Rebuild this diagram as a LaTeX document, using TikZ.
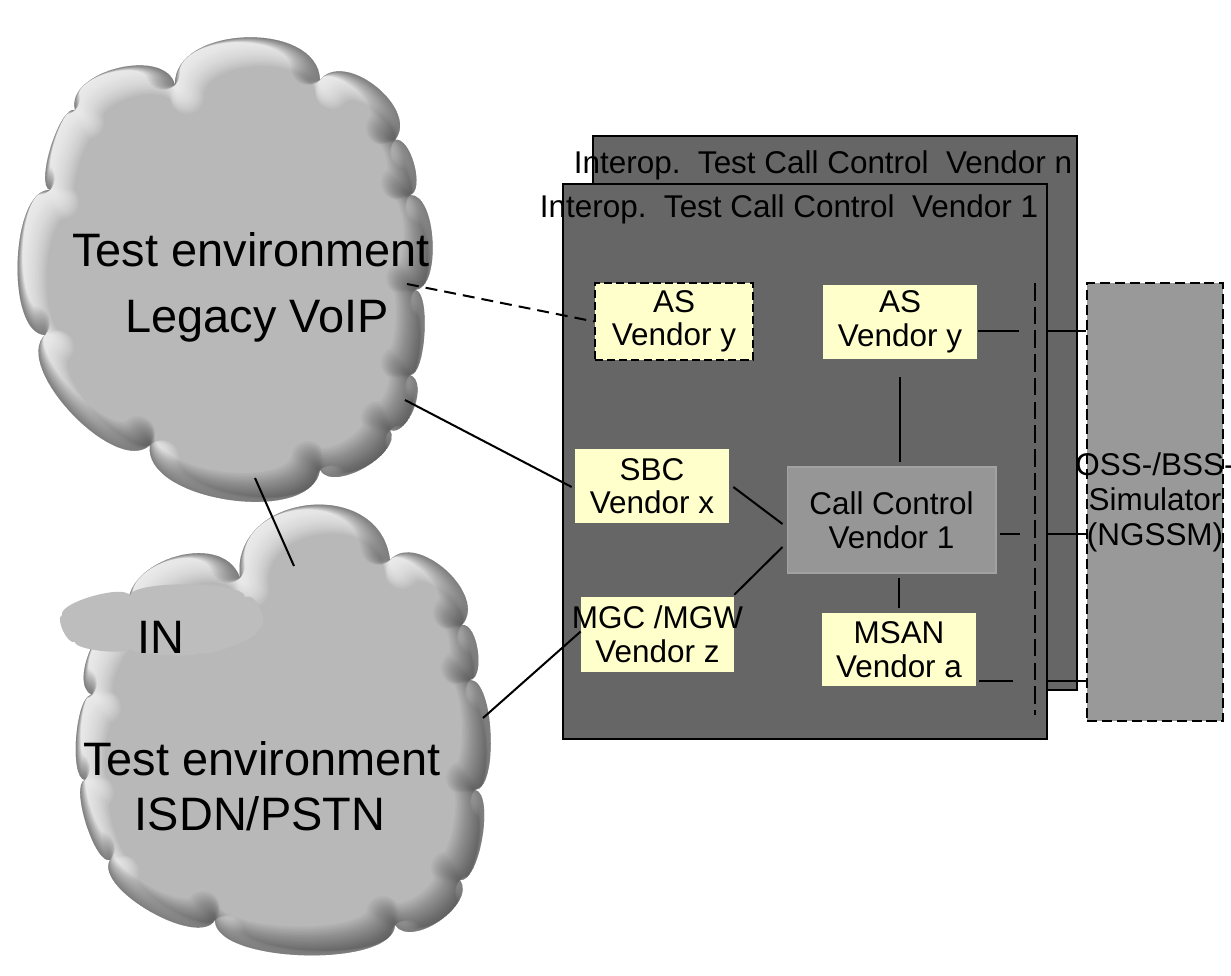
\documentclass[tikz,border=0pt]{standalone}
\usepackage{fontspec}
\setmainfont{Liberation Sans}
\usetikzlibrary{calc}

\definecolor{boxgray}{HTML}{666666}
\definecolor{note}{HTML}{FFFFCC}
\definecolor{ccgray}{HTML}{969696}
\definecolor{ccrim}{HTML}{A2A2A2}
\definecolor{ossgray}{HTML}{999999}
\definecolor{cloudfill}{HTML}{B8B8B8}
\definecolor{infill}{HTML}{BDBDBD}

% cloud outlines, traced clockwise, each bump an outward bend
\newcommand\voipoutline{(175,85) to[puff=1.06] (320,80) to[puff=1.06] (395,140)
  to[puff=0.72] (410,195) to[puff=0.72] (415,290) to[puff=0.48] (410,375)
  to[puff=0.88] (390,430) to[puff=0.85] (320,470) to[puff=0.85] (150,445)
  to[puff=0.78] (45,335) to[puff=0.70] (50,190) to[puff=0.49] (75,110)
  to[puff=1.0] (175,85) -- cycle}
\newcommand\pstnoutline{(240,578) to[puff=1.45] (390,560) to[puff=1.05] (462,625)
  to[puff=0.73] (470,680) to[puff=0.56] (475,790) to[puff=0.56] (460,880)
  to[puff=0.95] (395,925) to[puff=0.62] (215,920) to[puff=0.70] (110,860)
  to[puff=0.49] (85,780) to[puff=0.49] (92,695) to[puff=0.81] (130,615)
  to[puff=1.2] (240,578) -- cycle}
\newcommand\inoutline{(62,615) to[puff=0.48] (130,596) to[puff=0.36] (245,597)
  to[puff=0.97] (258,630) to[puff=0.33] (200,652) to[puff=0.25] (130,648)
  to[puff=0.37] (75,642) to[puff=0.68] (62,615) -- cycle}

% a cloud with a soft bevel: light upper-left rim, dark lower-right rim
\newcommand\puffycloud[1]{%
  \fill[cloudfill] #1;
  \begin{scope}[line join=round]
    \clip #1;
    \foreach \s in {0.6,1.2,...,12}{\draw[white, opacity=0.075, line width=\s*0.0566cm, shift={(\s,\s)}] #1;}
    \foreach \s in {0.6,1.2,...,12}{\draw[black, opacity=0.026, line width=\s*0.0566cm, shift={(-\s,-\s)}] #1;}
  \end{scope}}

\begin{document}
\begin{tikzpicture}[x=0.02cm, y=-0.02cm,
  puff/.style={bend left=90, looseness=#1},
  lbl/.style={font=\fontsize{17.9}{19.1}\selectfont, align=center, text=black, inner sep=0pt},
  cloudlbl/.style={font=\fontsize{26.7}{32}\selectfont, text=black, inner sep=0pt},
  panel/.style={draw=black, line width=1.2pt, fill=boxgray, inner sep=0pt,
                minimum width=9.68cm},
  notebox/.style={lbl, fill=note},
  conn/.style={draw=black, line width=1.15pt},
]
\useasboundingbox (0,0) rectangle (1231,976);

% test environments
\puffycloud{\pstnoutline}
\fill[infill] \inoutline;
\puffycloud{\voipoutline}

\node[cloudlbl, anchor=base] (voipA) at (251,267) {Test environment};
\node[cloudlbl, anchor=base] (voipB) at (257,333) {Legacy VoIP};
\node[cloudlbl, anchor=base] (pstnA) at (262,775) {Test environment};
\node[cloudlbl, anchor=base] (pstnB) at (260,830) {ISDN/PSTN};
\node[cloudlbl, anchor=base] (inlbl) at (161,653) {IN};

\coordinate (voipE1) at (407,284);
\coordinate (voipE2) at (405,400);
\coordinate (voipS)  at (255,478);
\coordinate (pstnN)  at (294,566);
\coordinate (pstnE)  at (483,718);

% stacked interop panels
\node[panel, minimum height=11.08cm] (back) at (835,413) {};
\node[lbl, anchor=base] (backtitle) at (823,174) {Interop.\ \ Test Call Control\ \ Vendor n};
\node[panel, minimum height=11.10cm] (front) at (805,461.5) {};
\node[lbl, anchor=base] (fronttitle) at (789,218) {Interop.\ \ Test Call Control\ \ Vendor 1};

% components
\node[notebox, draw=black, line width=1.1pt, dash pattern=on 4.6pt off 2.3pt,
      minimum width=3.16cm, minimum height=1.54cm] (asl) at (674,321.5) {AS\\Vendor y};
\node[notebox, minimum width=3.08cm, minimum height=1.48cm] (asr) at (900,322) {AS\\Vendor y};
\node[notebox, minimum width=3.08cm, minimum height=1.48cm] (sbc) at (652,486) {SBC\\Vendor x};
\node[lbl, fill=ccgray, draw=ccrim, line width=0.6pt,
      minimum width=4.18cm, minimum height=2.12cm] (cc) at (891.5,520) {Call Control\\Vendor 1};
\node[notebox, minimum width=3.06cm, minimum height=1.5cm] (mgc) at (657.5,634.5) {\makebox[0pt]{MGC /MGW}\\Vendor z};
\node[notebox, minimum width=3.08cm, minimum height=1.46cm] (msan) at (899,649.5) {MSAN\\Vendor a};
\node[lbl, font=\fontsize{17.9}{19.9}\selectfont, fill=ossgray, draw=black, line width=1.1pt,
      dash pattern=on 5.7pt off 2.8pt, minimum width=2.72cm, minimum height=8.76cm]
      (oss) at (1155,502) {\makebox[0pt]{OSS-/BSS-}\\\makebox[0pt]{Simulator}\\\makebox[0pt]{(NGSSM)}};

% management bus
\coordinate (busTop) at (1035,283);
\coordinate (busBot) at (1035,715);
\draw[conn, dash pattern=on 10pt off 3.5pt] (busTop) -- (busBot);

\coordinate (tapAS) at (1019,331);
\coordinate (tapCC) at (1020,534);
\coordinate (tapMS) at (1013,681);
\draw[conn] ($(asr.east |- tapAS)+(1,0)$) -- (tapAS);
\draw[conn] ($(cc.east |- tapCC)+(3,0)$) -- (tapCC);
\draw[conn] ($(msan.east |- tapMS)+(3,0)$) -- (tapMS);
\draw[conn] (front.east |- tapAS) -- (oss.west |- tapAS);
\draw[conn] (front.east |- tapCC) -- (oss.west |- tapCC);
\draw[conn] (front.east |- tapMS) -- (oss.west |- tapMS);

% signalling links
\draw[conn, dash pattern=on 6.8pt off 4pt] (voipE1) -- (asl.west);
\draw[conn] (voipE2) -- ($(sbc.west)+(-3,1)$);
\draw[conn] ($(sbc.east)+(4,1)$) -- ($(cc.west)+(-4,4)$);
\draw[conn] ($(mgc.north east)+(0,-2)$) -- ($(cc.west)+(-4,27)$);
\draw[conn] ($(asr.south)+(0,18)$) -- ($(asr.south |- cc.north)+(0,-4)$);
\draw[conn] ($(msan.north |- cc.south)+(0,4)$) -- ($(msan.north)+(0,-5)$);
\draw[conn] (voipS) -- (pstnN);
\draw[conn] (pstnE) -- ($(mgc.west)+(0,-3)$);
\end{tikzpicture}
\end{document}
